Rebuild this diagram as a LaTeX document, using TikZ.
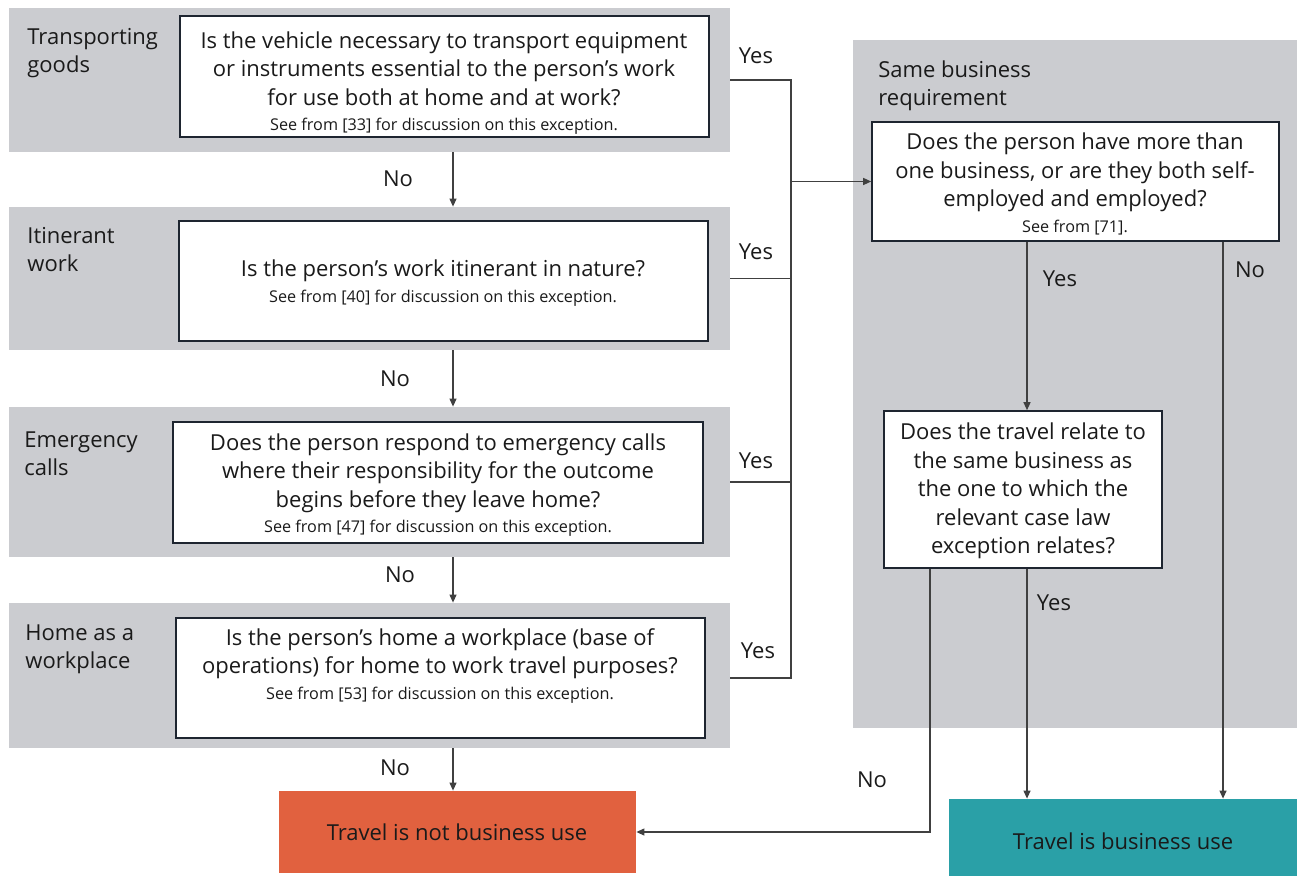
\documentclass[tikz,border=0pt]{standalone}
\usepackage{fontspec}
\setmainfont{Open Sans}
\usetikzlibrary{arrows.meta,fit}
\definecolor{panelgray}{HTML}{CBCCD0}
\definecolor{redbox}{HTML}{E1613F}
\definecolor{tealbox}{HTML}{2AA0A7}
\definecolor{qborder}{HTML}{1E2530}
\definecolor{txt}{HTML}{1A1A1A}
\tikzset{
  panel/.style={fill=panelgray, draw=none, inner sep=0pt},
  qbox/.style={fill=white, draw=qborder, line width=0.8pt, inner sep=0pt},
  endbox/.style={draw=none, inner sep=0pt, font=\fontsize{11}{14}\selectfont, text=txt},
  qtext/.style={align=center, text=txt, font=\fontsize{11}{14.3}\selectfont, inner sep=0pt},
  side/.style={align=left, text=txt, font=\fontsize{11}{14}\selectfont, inner sep=0pt, anchor=north west},
  lbl/.style={text=txt, font=\fontsize{11}{14}\selectfont, inner sep=0pt},
  conn/.style={draw=black!75, line width=0.6pt},
  arr/.style={conn, -{Triangle[length=4pt,width=3.5pt]}},
}
\newcommand{\smallnote}[1]{\\[-1.5pt]{\fontsize{8.1}{9}\selectfont #1}}
\begin{document}
\begin{tikzpicture}[x=0.5pt,y=-0.5pt]
\useasboundingbox (0,0) rectangle (1304,876);
% panels
\node[panel, fit={(9,8)(730,152)}] (p1) {};
\node[panel, fit={(9,207)(730,350)}] (p2) {};
\node[panel, fit={(9,407)(730,557)}] (p3) {};
\node[panel, fit={(9,603)(730,748)}] (p4) {};
\node[panel, fit={(853,40)(1297,728)}] (pR) {};
% side labels
\node[side] (s1) at (27,28) {Transporting\\goods};
\node[side] (s2) at (27,227) {Itinerant\\work};
\node[side] (s3) at (24,431) {Emergency\\calls};
\node[side] (s4) at (25,624) {Home as a\\workplace};
\node[side] (sR) at (878,60) {Same business\\requirement};
% question boxes
\node[qbox, fit={(180,16)(709,137)}] (q1) {};
\node[qbox, fit={(179,221)(708,341)}] (q2) {};
\node[qbox, fit={(173,422)(703,543)}] (q3) {};
\node[qbox, fit={(176,618)(705,738)}] (q4) {};
\node[qbox, fit={(872,122)(1279,241)}] (r1) {};
\node[qbox, fit={(884,411)(1162,568)}] (r2) {};
\node[qtext] (q1t) at (444,83) {Is the vehicle necessary to transport equipment\\or instruments essential to the person’s work\\for use both at home and at work?\smallnote{See from [33] for discussion on this exception.}};
\node[qtext] (q2t) at (443,283) {Is the person’s work itinerant in nature?\smallnote{See from [40] for discussion on this exception.}};
\node[qtext] (q3t) at (438,485) {Does the person respond to emergency calls\\where their responsibility for the outcome\\begins before they leave home?\smallnote{See from [47] for discussion on this exception.}};
\node[qtext] (q4t) at (440,666) {Is the person’s home a workplace (base of\\operations) for home to work travel purposes?\smallnote{See from [53] for discussion on this exception.}};
\node[qtext] (r1t) at (1075,184) {Does the person have more than\\one business, or are they both self-\\employed and employed?\smallnote{See from [71].}};
\node[qtext, font=\fontsize{11}{14.2}\selectfont] (r2t) at (1023,491) {Does the travel relate to\\the same business as\\the one to which the\\relevant case law\\exception relates?};
% terminals
\node[endbox, fill=redbox, fit={(279,791)(636,873)}] (red) {};
\node[endbox] (redt) at (457,832) {Travel is not business use};
\node[endbox, fill=tealbox, fit={(949,799)(1297,876)}] (teal) {};
\node[endbox] (tealt) at (1123,841) {Travel is business use};
% connectors
\coordinate (busX) at (791,0);
\coordinate (noX) at (453,0);
\coordinate (yX) at (1027,0);
\coordinate (nX) at (1223,0);
\coordinate (nlX) at (930,0);
\draw[conn] (p1.east) -- (p1.east -| busX) -- (q4.east -| busX) -- (q4.east -| p4.east);
\draw[conn] (p2.east) -- (p2.east -| busX);
\draw[conn] (p3.east) -- (p3.east -| busX);
\draw[arr] (r1.west -| busX) -- (r1.west);
\draw[arr] (p1.south -| noX) -- (p2.north -| noX);
\draw[arr] (p2.south -| noX) -- (p3.north -| noX);
\draw[arr] (p3.south -| noX) -- (p4.north -| noX);
\draw[arr] (p4.south -| noX) -- (red.north -| noX);
\draw[arr] (r1.south -| yX) -- (r2.north -| yX);
\draw[arr] (r1.south -| nX) -- (teal.north -| nX);
\draw[arr] (r2.south -| yX) -- (teal.north -| yX);
\draw[arr] (r2.south -| nlX) |- (red.east);
% labels
\node[lbl] (y1) at (756,56) {Yes};
\node[lbl] (y2) at (756,252) {Yes};
\node[lbl] (y3) at (756,461) {Yes};
\node[lbl] (y4) at (758,651) {Yes};
\node[lbl] (n1) at (398,179) {No};
\node[lbl] (n2) at (395,379) {No};
\node[lbl] (n3) at (400,575) {No};
\node[lbl] (n4) at (395,768) {No};
\node[lbl] (yr1) at (1060,279) {Yes};
\node[lbl] (nr1) at (1250,270) {No};
\node[lbl] (yr2) at (1054,603) {Yes};
\node[lbl] (nr2) at (872,780) {No};
\end{tikzpicture}
\end{document}
